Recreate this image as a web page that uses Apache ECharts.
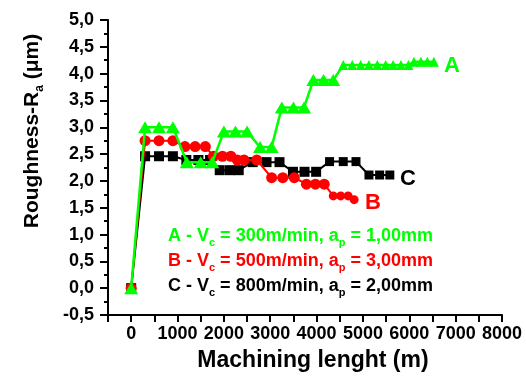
<!DOCTYPE html>
<html>
<head>
<meta charset="utf-8">
<script src="https://cdn.jsdelivr.net/npm/echarts@6/dist/echarts.min.js"></script>
<style>
html,body{margin:0;padding:0;background:#fff;}
#chart{width:526px;height:385px;}
</style>
</head>
<body>
<div id="chart"></div>
<script>
// Series A: Vc = 300 m/min, ap = 1,00 mm
const xA = [0, 300, 600, 900, 1200, 1500, 1750, 2000, 2250, 2500, 2780, 3030, 3250, 3500, 3730, 3930, 4150, 4360, 4575, 4770, 4950, 5130, 5310, 5490, 5650, 5820, 5980, 6100, 6250, 6390, 6530];
const yA = [0, 3.0, 3.0, 3.0, 2.35, 2.35, 2.35, 2.92, 2.92, 2.92, 2.63, 2.63, 3.37, 3.37, 3.37, 3.88, 3.88, 3.88, 4.16, 4.16, 4.16, 4.16, 4.16, 4.16, 4.16, 4.16, 4.16, 4.22, 4.22, 4.22, 4.22];
// Series B: Vc = 500 m/min, ap = 3,00 mm
const xB = [0, 300, 600, 900, 1160, 1380, 1600, 1775, 1970, 2150, 2290, 2435, 2710, 3030, 3270, 3520, 3780, 3975, 4165, 4360, 4520, 4680, 4810];
const yB = [0, 2.75, 2.75, 2.75, 2.64, 2.64, 2.64, 2.46, 2.46, 2.46, 2.39, 2.39, 2.39, 2.06, 2.06, 2.06, 1.94, 1.94, 1.94, 1.72, 1.72, 1.72, 1.65];
// Series C: Vc = 800 m/min, ap = 2,00 mm
const xC = [0, 300, 600, 900, 1190, 1450, 1700, 1910, 2130, 2320, 2620, 2920, 3200, 3490, 3740, 3990, 4280, 4575, 4850, 5130, 5360, 5580];
const yC = [0, 2.46, 2.46, 2.46, 2.39, 2.39, 2.39, 2.2, 2.2, 2.2, 2.35, 2.35, 2.35, 2.17, 2.17, 2.17, 2.36, 2.36, 2.36, 2.11, 2.11, 2.11];

const seriesLabels = ['A', 'B', 'C'];
const vcValues = ['300', '500', '800'];
const apValues = ['1,00', '3,00', '2,00'];
const xTitle = 'Machining lenght (m)';

const GREEN = '#00ff00', RED = '#ff0000', BLACK = '#000000';
const FONT = 'Liberation Sans, Arial, sans-serif';

const pairs = (xs, ys) => xs.map((x, i) => [x, ys[i]]);

const chart = echarts.init(document.getElementById('chart'), null, {renderer: 'canvas'});

const legendColors = [GREEN, RED, BLACK];
const legendTops = [227, 252, 277];
const legendTexts = seriesLabels.map((s, i) => ({
  type: 'text', left: 168, top: legendTops[i], z: 100,
  style: {
    text: '{m|' + s + ' - V}{s|c}{m| = ' + vcValues[i] + 'm/min, a}{s|p}{m| = ' + apValues[i] + 'mm}',
    rich: {
      m: {fontSize: 18, fontWeight: 'bold', fontFamily: FONT, fill: legendColors[i], lineHeight: 24},
      s: {fontSize: 11, fontWeight: 'bold', fontFamily: FONT, fill: legendColors[i], lineHeight: 9, verticalAlign: 'bottom'}
    }
  }
}));

chart.setOption({
  animation: false,
  backgroundColor: '#fff',
  grid: {left: 108, right: 24, top: 20, bottom: 70, containLabel: false},
  xAxis: {
    type: 'value', min: -500, max: 8000, interval: 500,
    axisLine: {show: true, onZero: false, lineStyle: {color: '#000', width: 2}},
    axisTick: {show: true, length: 7, lineStyle: {color: '#000', width: 2}},
    splitLine: {show: false},
    axisLabel: {
      margin: 10, color: '#000', fontSize: 18, fontWeight: 'bold', fontFamily: FONT,
      formatter: v => (v >= 0 && v % 1000 === 0) ? String(v) : ''
    }
  },
  yAxis: {
    type: 'value', min: -0.5, max: 5.0, interval: 0.5,
    axisLine: {show: true, onZero: false, lineStyle: {color: '#000', width: 2}},
    axisTick: {show: true, length: 8, lineStyle: {color: '#000', width: 2}},
    minorTick: {show: true, splitNumber: 2, length: 4, lineStyle: {color: '#000', width: 2}},
    splitLine: {show: false},
    axisLabel: {
      margin: 14, color: '#000', fontSize: 18, fontWeight: 'bold', fontFamily: FONT,
      formatter: v => v.toFixed(1).replace('.', ',')
    }
  },
  series: [
    {
      name: 'C', type: 'line', data: pairs(xC, yC), z: 2,
      symbol: 'rect', symbolSize: v => v[0] > 4000 ? 9 : 10,
      itemStyle: {color: BLACK}, lineStyle: {color: BLACK, width: 2}
    },
    {
      name: 'B', type: 'line', data: pairs(xB, yB), z: 3,
      symbol: 'circle', symbolSize: v => v[0] > 4300 ? 9 : 11,
      itemStyle: {color: RED}, lineStyle: {color: RED, width: 2}
    },
    {
      name: 'A', type: 'line', data: pairs(xA, yA), z: 4,
      symbol: 'triangle', symbolSize: v => v[0] > 4400 ? [10, 10] : [14, 12],
      itemStyle: {color: GREEN}, lineStyle: {color: GREEN, width: 2.5}
    }
  ],
  graphic: [
    {type: 'text', x: 452, y: 66, z: 100, style: {text: seriesLabels[0], fill: GREEN, fontSize: 22, fontWeight: 'bold', fontFamily: FONT, align: 'center', verticalAlign: 'middle'}},
    {type: 'text', x: 373, y: 203, z: 100, style: {text: seriesLabels[1], fill: RED, fontSize: 22, fontWeight: 'bold', fontFamily: FONT, align: 'center', verticalAlign: 'middle'}},
    {type: 'text', x: 408, y: 179, z: 100, style: {text: seriesLabels[2], fill: BLACK, fontSize: 22, fontWeight: 'bold', fontFamily: FONT, align: 'center', verticalAlign: 'middle'}},
    {type: 'text', x: 313, y: 361, z: 100, style: {text: xTitle, fill: '#000', fontSize: 23, fontWeight: 'bold', fontFamily: FONT, align: 'center', verticalAlign: 'middle'}},
    {
      type: 'text', x: 32, y: 131, rotation: Math.PI / 2, z: 100,
      style: {
        text: '{m|Roughness-R}{s|a}{m| (\u03bcm)}', align: 'center', verticalAlign: 'middle',
        rich: {
          m: {fontSize: 21, fontWeight: 'bold', fontFamily: FONT, fill: '#000', lineHeight: 28},
          s: {fontSize: 12, fontWeight: 'bold', fontFamily: FONT, fill: '#000', lineHeight: 10, verticalAlign: 'bottom'}
        }
      }
    }
  ].concat(legendTexts)
});
</script>
</body>
</html>
